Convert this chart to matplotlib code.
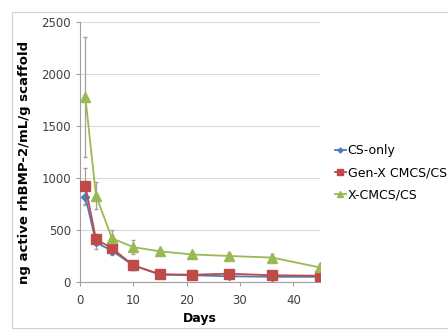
import matplotlib
matplotlib.use("Agg")
import matplotlib.pyplot as plt
from matplotlib.patches import Rectangle
from matplotlib.lines import Line2D

# Data
days = [1, 3, 6, 10, 15, 21, 28, 36, 45]
cs_only = [820, 380, 300, 160, 70, 65, 55, 50, 50]
cs_only_err = [80, 60, 40, 40, 20, 15, 15, 15, 15]
genx = [925, 410, 325, 160, 75, 70, 80, 65, 60]
genx_err = [175, 50, 40, 40, 20, 20, 20, 20, 20]
xcmcs = [1780, 830, 420, 335, 295, 265, 250, 235, 140]
xcmcs_err = [580, 130, 80, 65, 25, 25, 25, 30, 30]

labels = ["CS-only", "Gen-X CMCS/CS", "X-CMCS/CS"]
colors = ["#4A7EBB", "#BE4B48", "#98B954"]

fig = plt.figure(figsize=(4.48, 3.31), dpi=100)
fig.patches.append(Rectangle((12 / 448, 3 / 331), 1.2, 316 / 331,
                             transform=fig.transFigure, fill=False,
                             edgecolor="#d0d0d0", linewidth=0.8))
ax = fig.add_axes([80 / 448, 49 / 331, 240 / 448, 260 / 331])

series = [(cs_only, cs_only_err, "D", 4.5), (genx, genx_err, "s", 7),
          (xcmcs, xcmcs_err, "^", 7)]
handles = []
for (vals, err, mk, ms), lab, col in zip(series, labels, colors):
    ax.errorbar(days, vals, yerr=err, color=col, marker=mk, markersize=ms,
                linewidth=1.3, ecolor="#a0a0a0", elinewidth=0.9, capsize=1.5,
                zorder=3)
    handles.append(Line2D([], [], color=col, marker=mk, markersize=ms - 2,
                          linewidth=1.3, label=lab))

ax.set_xlim(0, 45)
ax.set_ylim(0, 2500)
ax.set_xticks([0, 10, 20, 30, 40])
ax.set_yticks(range(0, 2501, 500))
ax.grid(axis="y", color="#d9d9d9", linewidth=0.8)
ax.set_axisbelow(True)
for s in ["top", "right"]:
    ax.spines[s].set_visible(False)
for s in ["left", "bottom"]:
    ax.spines[s].set_color("#a0a0a0")
ax.tick_params(labelsize=8.5, colors="#a0a0a0", labelcolor="#404040", length=3)
ax.tick_params(axis="x", pad=6)

ax.set_xlabel("Days", fontsize=9, fontweight="bold", labelpad=3)
ax.set_ylabel("ng active rhBMP-2/mL/g scaffold", fontsize=9.5,
              fontweight="bold")
ax.yaxis.set_label_coords(-0.205, 0.46)

ax.legend(handles=handles, loc="center left", bbox_to_anchor=(1.04, 0.42),
          frameon=False, fontsize=9, handlelength=0.9, handletextpad=0.15,
          labelspacing=0.75, borderaxespad=0)

fig.savefig("out.png", dpi=100)
